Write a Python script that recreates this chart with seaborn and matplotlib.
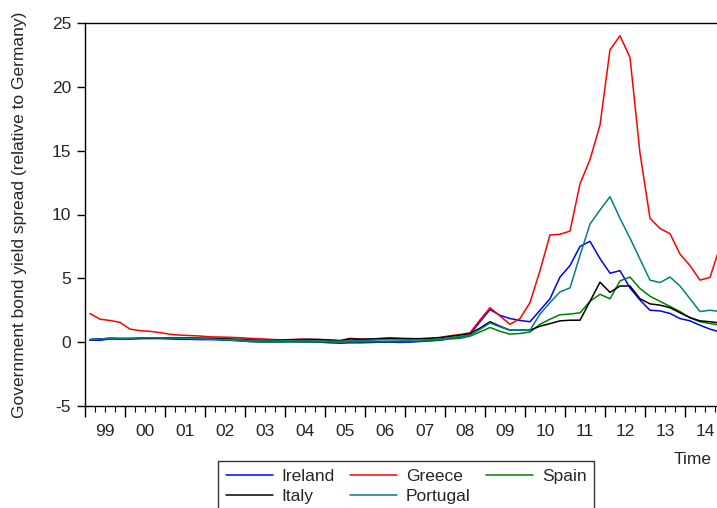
import numpy as np
import pandas as pd
import matplotlib
matplotlib.use("Agg")
import matplotlib.pyplot as plt
from matplotlib.ticker import FixedLocator, FixedFormatter, NullFormatter
from matplotlib.lines import Line2D
import seaborn as sns

# Quarterly 10-year government bond yield spreads over Germany, 1999Q1-2014Q4
start_year = 1999
n_quarters = 64

ireland = [
    0.15, 0.15, 0.25, 0.25, 0.25, 0.28, 0.28, 0.28,
    0.25, 0.22, 0.22, 0.20, 0.20, 0.18, 0.15, 0.12,
    0.05, 0.02, 0.02, 0.03, 0.03, 0.02, 0.02, 0.00,
    -0.05, -0.08, -0.05, -0.05, -0.03, 0.00, 0.00, -0.02,
    0.00, 0.05, 0.10, 0.15, 0.30, 0.40, 0.60, 1.60,
    2.55, 2.10, 1.85, 1.70, 1.60, 2.50, 3.40, 5.10,
    6.00, 7.50, 7.90, 6.55, 5.40, 5.60, 4.25, 3.30,
    2.50, 2.45, 2.25, 1.85, 1.67, 1.33, 1.02, 0.80,
]
greece = [
    2.24, 1.80, 1.70, 1.55, 1.02, 0.90, 0.85, 0.75,
    0.62, 0.55, 0.52, 0.48, 0.42, 0.40, 0.38, 0.35,
    0.30, 0.27, 0.22, 0.18, 0.20, 0.24, 0.22, 0.21,
    0.18, 0.12, 0.30, 0.25, 0.24, 0.28, 0.35, 0.30,
    0.28, 0.27, 0.30, 0.37, 0.50, 0.60, 0.73, 1.75,
    2.70, 2.05, 1.40, 1.85, 3.10, 5.60, 8.40, 8.45,
    8.70, 12.40, 14.30, 17.00, 22.90, 24.00, 22.30, 14.80,
    9.70, 8.90, 8.50, 6.90, 6.00, 4.86, 5.07, 7.50,
]
spain = [
    0.20, 0.25, 0.30, 0.28, 0.28, 0.30, 0.32, 0.33,
    0.33, 0.32, 0.30, 0.28, 0.25, 0.20, 0.15, 0.10,
    0.05, 0.03, 0.02, 0.02, 0.03, 0.03, 0.02, 0.02,
    0.02, 0.02, 0.03, 0.03, 0.03, 0.04, 0.04, 0.05,
    0.05, 0.08, 0.12, 0.18, 0.25, 0.30, 0.47, 0.80,
    1.15, 0.85, 0.63, 0.68, 0.80, 1.40, 1.80, 2.15,
    2.20, 2.30, 3.20, 3.75, 3.40, 4.80, 5.10, 4.20,
    3.60, 3.20, 2.80, 2.40, 1.90, 1.60, 1.46, 1.33,
]
italy = [
    0.20, 0.25, 0.30, 0.28, 0.28, 0.30, 0.32, 0.33,
    0.35, 0.33, 0.33, 0.32, 0.30, 0.28, 0.25, 0.22,
    0.18, 0.15, 0.13, 0.15, 0.18, 0.20, 0.22, 0.20,
    0.15, 0.12, 0.25, 0.22, 0.25, 0.28, 0.30, 0.28,
    0.27, 0.27, 0.30, 0.35, 0.45, 0.55, 0.68, 1.10,
    1.60, 1.25, 0.94, 0.94, 0.94, 1.25, 1.45, 1.67,
    1.72, 1.72, 3.20, 4.70, 3.90, 4.40, 4.40, 3.40,
    3.00, 2.90, 2.70, 2.30, 1.93, 1.67, 1.60, 1.50,
]
portugal = [
    0.20, 0.25, 0.30, 0.30, 0.30, 0.33, 0.35, 0.33,
    0.32, 0.32, 0.30, 0.28, 0.25, 0.22, 0.20, 0.18,
    0.12, 0.10, 0.10, 0.10, 0.12, 0.13, 0.12, 0.10,
    0.08, 0.08, 0.12, 0.12, 0.15, 0.18, 0.18, 0.16,
    0.15, 0.17, 0.20, 0.25, 0.35, 0.45, 0.55, 1.00,
    1.50, 1.20, 0.94, 0.94, 0.94, 2.20, 3.10, 3.94,
    4.25, 6.80, 9.25, 10.35, 11.40, 9.70, 8.15, 6.50,
    4.86, 4.67, 5.10, 4.40, 3.40, 2.40, 2.50, 2.40,
]

year_labels = ["99", "00", "01", "02", "03", "04", "05", "06",
               "07", "08", "09", "10", "11", "12", "13", "14"]

countries = ["Ireland", "Greece", "Spain", "Italy", "Portugal"]
colors = {"Ireland": "#0000ff", "Greece": "#ff0000", "Spain": "#008000",
          "Italy": "#000000", "Portugal": "#008080"}

# Observations are placed at the middle of each quarter
t = start_year + (np.arange(n_quarters) + 0.5) / 4.0
series = {"Ireland": ireland, "Greece": greece, "Spain": spain,
          "Italy": italy, "Portugal": portugal}
df = pd.concat(
    [pd.DataFrame({"time": t, "spread": v, "country": k}) for k, v in series.items()],
    ignore_index=True,
)

sns.set_style("white")
plt.rcParams["font.family"] = ["Liberation Sans", "DejaVu Sans"]

fig = plt.figure(figsize=(7.17, 5.08), dpi=100)
ax = fig.add_axes([85 / 717, 1 - 406 / 508, 1 - 85 / 717, (406 - 23) / 508])

sns.lineplot(data=df, x="time", y="spread", hue="country", hue_order=countries,
             palette=colors, linewidth=1.1, legend=False, ax=ax)

ax.set_xlim(start_year, start_year + 632 / 40.0)
ax.set_ylim(-5, 25)
ax.set_yticks([-5, 0, 5, 10, 15, 20, 25])
ax.set_yticklabels(["-5", "0", "5", "10", "15", "20", "25"], fontsize=12.5)

# Year boundaries as major ticks, quarters as minor ticks, year labels mid-year
years = np.arange(start_year, start_year + len(year_labels) + 1)
ax.xaxis.set_major_locator(FixedLocator(years))
ax.xaxis.set_major_formatter(NullFormatter())
minor_pos = []
minor_lab = []
for k, y in enumerate(years[:-1]):
    for q, lab in ((0.25, ""), (0.5, year_labels[k]), (0.75, "")):
        minor_pos.append(y + q)
        minor_lab.append(lab)
ax.xaxis.set_minor_locator(FixedLocator(minor_pos))
ax.xaxis.set_minor_formatter(FixedFormatter(minor_lab))
ax.tick_params(axis="x", which="major", direction="out", length=8, width=1,
               color="black", bottom=True)
ax.tick_params(axis="x", which="minor", direction="out", length=4, width=0.8,
               color="black", bottom=True, labelsize=12.5, pad=9)
ax.tick_params(axis="y", which="major", direction="out", length=6, width=1,
               color="black", left=True, labelsize=12.5, pad=4)

for side in ("left", "bottom", "top"):
    ax.spines[side].set_visible(True)
    ax.spines[side].set_color("black")
    ax.spines[side].set_linewidth(1.0)
ax.spines["right"].set_visible(False)

ax.set_xlabel("")
ax.set_ylabel("Government bond yield spread (relative to Germany)", fontsize=12.5,
              labelpad=18)
fig.text(712 / 717, 1 - 459 / 508, "Time", ha="right", va="center", fontsize=12.5)

legend_order = ["Ireland", "Italy", "Greece", "Portugal", "Spain"]
handles = [Line2D([], [], color=colors[c], linewidth=1.1) for c in legend_order]
leg = fig.legend(handles, legend_order, ncol=3, loc="upper left",
                 bbox_to_anchor=(218 / 717, 1 - 461 / 508), frameon=True,
                 fancybox=False, fontsize=12.5, handlelength=2.7,
                 handletextpad=0.5, columnspacing=0.9, labelspacing=0.3,
                 borderpad=0.45, borderaxespad=0)
leg.get_frame().set_edgecolor("black")
leg.get_frame().set_linewidth(1.0)

fig.savefig("out.png", dpi=100)
